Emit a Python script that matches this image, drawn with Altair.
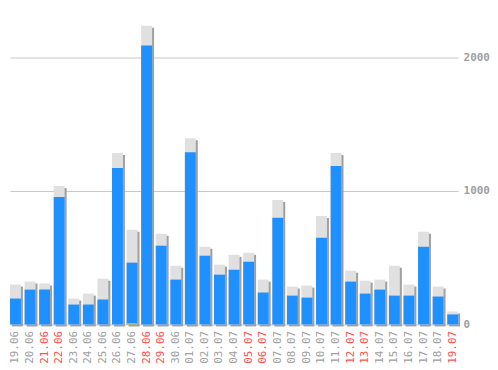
import altair as alt
import pandas as pd

dates = ["19.06", "20.06", "21.06", "22.06", "23.06", "24.06", "25.06", "26.06",
         "27.06", "28.06", "29.06", "30.06", "01.07", "02.07", "03.07", "04.07",
         "05.07", "06.07", "07.07", "08.07", "09.07", "10.07", "11.07", "12.07",
         "13.07", "14.07", "15.07", "16.07", "17.07", "18.07", "19.07"]
blue = [194, 261, 261, 955, 149, 149, 187, 1172, 463, 2090, 590, 336, 1291, 515,
        373, 410, 470, 239, 799, 216, 201, 649, 1187, 321, 231, 261, 216, 216,
        582, 209, 75]
total = [299, 321, 306, 1037, 194, 231, 343, 1284, 709, 2239, 679, 440, 1396, 582,
         448, 522, 537, 336, 933, 284, 291, 813, 1284, 403, 328, 336, 440, 299,
         694, 284, 97]
yellow = [0, 0, 0, 0, 0, 0, 0, 0, 9, 0, 0, 0, 0, 0, 0, 0, 0, 0, 0, 0, 0, 0, 0, 0,
          0, 0, 0, 0, 0, 0, 0]
weekend = ["21.06", "22.06", "28.06", "29.06", "05.07", "06.07", "12.07", "13.07", "19.07"]

df = pd.DataFrame({"date": dates, "blue": blue, "total": total, "yellow": yellow})

FONT = "DejaVu Sans Mono"
wk = "[" + ",".join("'%s'" % d for d in weekend) + "]"

x = alt.X("date:N", sort=dates, title=None,
          scale=alt.Scale(paddingInner=0.25, paddingOuter=0),
          axis=alt.Axis(labelAngle=270, ticks=False, domain=False, labelPadding=6,
                        labelFont=FONT, labelFontSize=11,
                        labelColor=alt.ExprRef(
                            "indexof(" + wk + ", datum.value) >= 0 ? '#ff5050' : '#a0a0a0'")))
yscale = alt.Scale(domain=[0, 2366], nice=False)
yaxis = alt.Axis(orient="right", values=[0, 1000, 2000], format="d", ticks=False, domain=False,
                 labelPadding=5, labelFont=FONT, labelFontSize=11, labelFontWeight="bold",
                 labelColor="#a0a0a0", gridColor="#c8c8c8", gridWidth=1, title=None)

base = alt.Chart(df)

shadow = base.mark_bar(color="#a0a0a0", xOffset=2, x2Offset=2, yOffset=2, y2Offset=2).encode(
    x=x, y=alt.Y("total:Q", scale=yscale, axis=yaxis, title=None))
gray = base.mark_bar(color="#e0e0e0").encode(
    x=x, y=alt.Y("total:Q", scale=yscale, title=None))
bl = base.mark_bar(color="#1e90ff").encode(
    x=x, y=alt.Y("blue:Q", scale=yscale, title=None))
yl = base.transform_filter("datum.yellow > 0").mark_bar(color="#f2c200").encode(
    x=x, y=alt.Y("yellow:Q", scale=yscale, title=None))

chart = alt.layer(shadow, gray, bl, yl).properties(
    width=450, height=317, background="white", padding=0
).configure_view(stroke=None)

chart.save("out.html", embed_options={"renderer": "svg", "actions": False})
